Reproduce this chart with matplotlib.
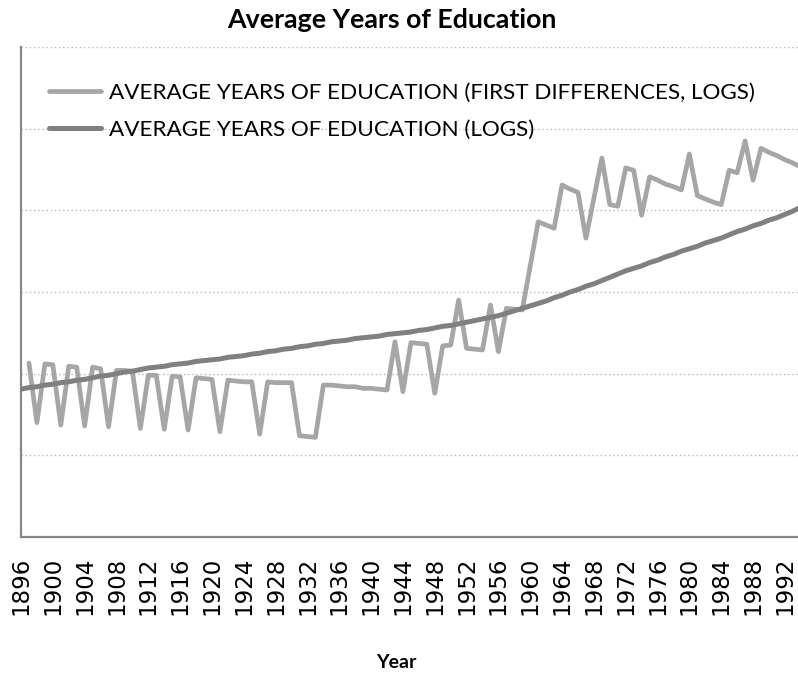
import numpy as np
import matplotlib
matplotlib.use("Agg")
import matplotlib.pyplot as plt

# Annual observations, 1896-1994
years = list(range(1896, 1995))

# First differences of log average years of education (no value for the first year)
edu_diff = [
    np.nan,
    2.13, 1.40, 2.12, 2.11, 1.37, 2.09, 2.08, 1.36, 2.08, 2.06,   # 1897-1906
    1.35, 2.04, 2.04, 2.03, 1.33, 1.98, 1.98, 1.32, 1.97, 1.96,   # 1907-1916
    1.31, 1.95, 1.94, 1.93, 1.29, 1.92, 1.91, 1.90, 1.90, 1.26,   # 1917-1926
    1.90, 1.89, 1.89, 1.89, 1.24, 1.23, 1.22, 1.86, 1.86, 1.85,   # 1927-1936
    1.84, 1.84, 1.82, 1.82, 1.81, 1.80, 2.39, 1.78, 2.38, 2.37,   # 1937-1946
    2.36, 1.76, 2.34, 2.35, 2.90, 2.31, 2.30, 2.29, 2.84, 2.27,   # 1947-1956
    2.80, 2.79, 2.78, 3.32, 3.86, 3.82, 3.78, 4.31, 4.26, 4.22,   # 1957-1966
    3.66, 4.15, 4.64, 4.07, 4.05, 4.52, 4.49, 3.94, 4.41, 4.37,   # 1967-1976
    4.32, 4.29, 4.25, 4.69, 4.18, 4.14, 4.10, 4.07, 4.49, 4.46,   # 1977-1986
    4.85, 4.37, 4.76, 4.71, 4.67, 4.62, 4.58, 4.53,               # 1987-1994
]

# Log average years of education
edu_log = [
    1.81, 1.83, 1.84, 1.86, 1.87, 1.89, 1.90, 1.92, 1.93, 1.95,   # 1896-1905
    1.97, 1.98, 2.00, 2.02, 2.03, 2.05, 2.07, 2.08, 2.09, 2.11,   # 1906-1915
    2.12, 2.13, 2.15, 2.16, 2.17, 2.18, 2.20, 2.21, 2.22, 2.24,   # 1916-1925
    2.25, 2.27, 2.28, 2.30, 2.31, 2.33, 2.34, 2.36, 2.37, 2.39,   # 1926-1935
    2.40, 2.41, 2.43, 2.44, 2.45, 2.46, 2.48, 2.49, 2.50, 2.51,   # 1936-1945
    2.53, 2.54, 2.56, 2.58, 2.59, 2.61, 2.63, 2.65, 2.67, 2.69,   # 1946-1955
    2.71, 2.74, 2.77, 2.80, 2.83, 2.86, 2.89, 2.93, 2.96, 3.00,   # 1956-1965
    3.03, 3.07, 3.10, 3.14, 3.18, 3.22, 3.26, 3.29, 3.32, 3.36,   # 1966-1975
    3.39, 3.43, 3.46, 3.50, 3.53, 3.56, 3.60, 3.63, 3.66, 3.70,   # 1976-1985
    3.74, 3.77, 3.81, 3.84, 3.88, 3.91, 3.95, 3.99, 4.04,         # 1986-1994
]

tick_years = list(range(1896, 1993, 4))
label_diff = "AVERAGE YEARS OF EDUCATION (FIRST DIFFERENCES, LOGS)"
label_log = "AVERAGE YEARS OF EDUCATION (LOGS)"

W, H = 798, 677
fig = plt.figure(figsize=(W / 100, H / 100), dpi=100)
ax = fig.add_axes([21 / W, 1 - 537 / H, (798 - 21) / W, (537 - 47) / H])

ax.plot(years, edu_diff, color="#a6a6a6", lw=3.4, solid_joinstyle="round",
        solid_capstyle="round", label=label_diff, zorder=3)
ax.plot(years, edu_log, color="#808080", lw=3.6, solid_joinstyle="round",
        solid_capstyle="round", label=label_log, zorder=4)

ax.set_xlim(1896, 1993.65)
ax.set_ylim(0, 6)
ax.set_yticks(range(0, 7))
ax.set_yticklabels([])
ax.tick_params(axis="y", length=0)
ax.grid(axis="y", color="#b8b8b8", lw=1.0, linestyle=(0, (1, 2)))
ax.set_axisbelow(True)

ax.set_xticks(tick_years)
ax.set_xticklabels([str(y) for y in tick_years], rotation=90,
                   fontsize=16.5, family="DejaVu Sans")
ax.tick_params(axis="x", length=0, pad=14)

for side in ("top", "right"):
    ax.spines[side].set_visible(False)
for side in ("left", "bottom"):
    ax.spines[side].set_color("#888888")
    ax.spines[side].set_linewidth(1.6)

leg = ax.legend(loc="upper left", bbox_to_anchor=(19 / 777, (537 - 73.5) / 490),
                frameon=False, handlelength=2.3, handletextpad=0.35,
                labelspacing=0.76, borderaxespad=0,
                prop={"family": "Lato", "size": 16.2})

fig.text(392 / W, 1 - 20 / H, "Average Years of Education", ha="center",
         va="center", fontsize=19.3, fontweight="bold", family="Lato")
fig.text(396 / W, 1 - 662 / H, "Year", ha="center", va="center",
         fontsize=14, fontweight="bold", family="Lato")

fig.savefig("out.png", dpi=100)
